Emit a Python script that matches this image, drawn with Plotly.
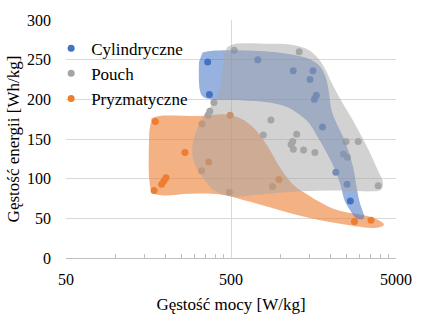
import plotly.graph_objects as go

# Data: power density [W/kg], energy density [Wh/kg]
cyl_power = [361, 370, 727, 1191, 1570, 1506, 1644, 1600, 1793, 2160, 2527, 2643]
cyl_energy = [247, 206, 250, 236, 236, 225, 205, 200, 165, 108, 93, 72]

pouch_power = [523, 1295, 363, 372, 394, 334, 332, 489, 873, 784, 1250, 1183, 1156,
               1193, 1376, 1612, 2492, 2951, 2400, 2537, 893, 3900]
pouch_energy = [262, 260, 180, 185, 196, 169, 110, 83, 174, 155, 156, 147, 143,
                137, 136, 133, 147, 147, 131, 127, 90, 91]

pryz_power = [174, 263, 202, 196, 190, 171, 366, 494, 976, 2800, 3530]
pryz_energy = [172, 133, 101, 97, 93, 85, 121, 180, 99, 46, 47.5]

# Envelope regions (power, energy)
gray_env_power = [475, 531, 858, 1130, 1489, 1783, 2047, 2248, 2760, 3390, 3890, 4170, 4054,
                  3630, 2409, 1296, 748, 508, 403, 341, 297, 292, 314, 351, 397, 425, 443, 455]
gray_env_energy = [266, 270, 270, 269, 262, 245, 220, 204, 172.5, 137.5, 110, 95, 86,
                   84, 85, 84, 80, 77.5, 84, 100, 122.5, 141, 164, 182.5, 197.5, 210, 235, 257.5]

blue_env_power = [336, 376, 748, 1208, 1531, 1754, 1905, 2042, 2153, 2372, 2577, 2760, 2877,
                  2993, 3128, 3212, 3128, 2877, 2686, 2440, 2312, 2122, 1874, 1659, 1489,
                  1296, 1099, 858, 569, 376, 336, 323, 320]
blue_env_energy = [259, 261, 261, 256, 250, 240, 222.5, 185, 172.5, 154, 135, 112.5, 91,
                   72.5, 60, 52.5, 49, 50, 57.5, 72.5, 91, 112.5, 135, 154, 170,
                   181, 190, 196, 199, 200, 204, 212.5, 247.5]

orange_env_power = [165, 184, 327, 462, 569, 697, 833, 985, 1159, 1387, 2153, 3390, 4054,
                    4227, 3785, 2153, 1333, 858, 608, 431, 285, 189, 167, 160, 160]
orange_env_energy = [176, 179, 179, 181, 176, 162.5, 141, 115, 95, 82.5, 61, 52.5, 46,
                     42, 38, 44, 53, 64, 72.5, 80, 81, 79, 82.5, 97.5, 160]

x_ticks = [50, 500, 5000]
x_minor = [100, 150, 200, 250, 300, 350, 400, 450,
           1000, 1500, 2000, 2500, 3000, 3500, 4000, 4500]

BLUE = "#4472C4"
GRAY = "#A5A5A5"
ORANGE = "#ED7D31"
FONT = "Liberation Serif"

fig = go.Figure()

# points (under the translucent regions)
fig.add_trace(go.Scatter(x=pryz_power, y=pryz_energy, mode="markers", name="Pryzmatyczne",
                         marker=dict(color=ORANGE, size=7), legendrank=3))
fig.add_trace(go.Scatter(x=cyl_power, y=cyl_energy, mode="markers", name="Cylindryczne",
                         marker=dict(color=BLUE, size=7), legendrank=1))
fig.add_trace(go.Scatter(x=pouch_power, y=pouch_energy, mode="markers", name="Pouch",
                         marker=dict(color=GRAY, size=7), legendrank=2))

# regions
fig.add_trace(go.Scatter(x=orange_env_power, y=orange_env_energy, mode="lines",
                         line=dict(width=0, shape="spline", smoothing=1.0),
                         fill="toself", fillcolor="rgba(237,125,49,0.6)",
                         showlegend=False, hoverinfo="skip"))
fig.add_trace(go.Scatter(x=blue_env_power, y=blue_env_energy, mode="lines",
                         line=dict(width=0, shape="spline", smoothing=1.0),
                         fill="toself", fillcolor="rgba(68,114,196,0.55)",
                         showlegend=False, hoverinfo="skip"))
fig.add_trace(go.Scatter(x=gray_env_power, y=gray_env_energy, mode="lines",
                         line=dict(width=0, shape="spline", smoothing=1.0),
                         fill="toself", fillcolor="rgba(165,165,165,0.5)",
                         showlegend=False, hoverinfo="skip"))

tickfont = dict(family=FONT, size=16, color="black")

fig.update_layout(
    width=424, height=324,
    margin=dict(l=63, r=26, t=19, b=66),
    paper_bgcolor="white", plot_bgcolor="white",
    font=dict(family=FONT, size=16, color="black"),
    showlegend=True,
    legend=dict(x=-0.045, y=0.955, xanchor="left", yanchor="top",
                bgcolor="rgba(0,0,0,0)", font=dict(family=FONT, size=17, color="black"),
                itemwidth=30),
    xaxis=dict(type="log", range=[1.69896, 3.69898],
               tickvals=x_ticks, ticktext=[str(v) for v in x_ticks], tickfont=tickfont,
               showgrid=True, gridcolor="#D9D9D9", gridwidth=1,
               showline=True, linecolor="#BFBFBF", linewidth=1,
               ticks="", ticklabelstandoff=7, zeroline=False,
               minor=dict(tickvals=x_minor, ticks="inside", ticklen=4,
                          tickcolor="#BFBFBF", showgrid=False),
               title=dict(text="Gęstość mocy [W/kg]", font=dict(family=FONT, size=17, color="black"),
                          standoff=10)),
    yaxis=dict(range=[0, 300], dtick=50, tick0=0, tickfont=tickfont,
               showgrid=True, gridcolor="#D9D9D9", gridwidth=1,
               showline=False, zeroline=False, ticks="", ticklabelstandoff=14,
               title=dict(text="Gęstość energii [Wh/kg]", font=dict(family=FONT, size=17, color="black"),
                          standoff=3)),
)

fig.write_html("out.html")
